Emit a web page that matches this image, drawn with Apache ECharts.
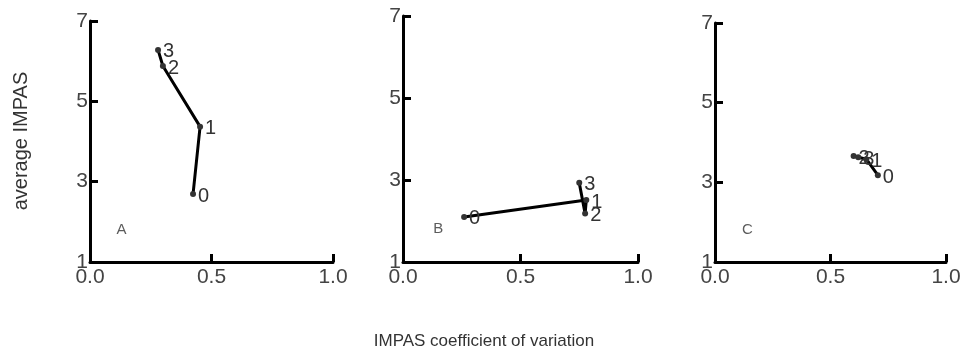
<!DOCTYPE html>
<html>
<head>
<meta charset="utf-8">
<script src="https://cdn.jsdelivr.net/npm/echarts@6/dist/echarts.min.js"></script>
<style>
  html, body { margin: 0; padding: 0; background: #fff; }
  #chart { width: 968px; height: 360px; }
</style>
</head>
<body>
<div id="chart"></div>
<script>
  // time points 0..3 for each panel: [cv, average IMPAS]
  var stepNames = ['0', '1', '2', '3'];
  var panelA = [[0.424, 2.69], [0.453, 4.37], [0.30, 5.88], [0.28, 6.28]];
  var panelB = [[0.26, 2.10], [0.78, 2.51], [0.775, 2.18], [0.75, 2.93]];
  var panelC = [[0.705, 3.18], [0.655, 3.58], [0.60, 3.66], [0.62, 3.63]];
  var panelLetters = ['A', 'B', 'C'];
  var letterPos = [[0.13, 1.8], [0.15, 1.8], [0.14, 1.8]];
  var yTicks = [1, 3, 5, 7];
  var xTicks = [0, 0.5, 1];

  var chart = echarts.init(document.getElementById('chart'));

  var grids = [
    {left: 90, width: 243, top: 21, height: 241},
    {left: 403, width: 235, top: 16, height: 246},
    {left: 715, width: 231, top: 23, height: 239}
  ];
  var panels = [panelA, panelB, panelC];

  var xAxes = [], yAxes = [], series = [];
  grids.forEach(function (g, i) {
    xAxes.push({
      gridIndex: i, type: 'value', min: xTicks[0], max: xTicks[2], interval: 0.5,
      axisLine: {lineStyle: {color: '#000', width: 3}},
      axisTick: {inside: true, length: 8, lineStyle: {color: '#000', width: 3}},
      axisLabel: {color: '#444', fontSize: 21, margin: 5, fontFamily: 'Liberation Sans',
        formatter: function (v) { return v.toFixed(1); }},
      splitLine: {show: false}
    });
    yAxes.push({
      gridIndex: i, type: 'value', min: yTicks[0], max: yTicks[3], interval: 2,
      axisLine: {lineStyle: {color: '#000', width: 3}},
      axisTick: {inside: true, length: 8, lineStyle: {color: '#000', width: 3}},
      axisLabel: {color: '#444', fontSize: 21, margin: 2, fontFamily: 'Liberation Sans'},
      splitLine: {show: false}
    });
    series.push({
      type: 'line', xAxisIndex: i, yAxisIndex: i,
      data: panels[i].map(function (p, k) { return {value: p, name: stepNames[k]}; }),
      symbol: 'circle', symbolSize: 6,
      itemStyle: {color: '#333'},
      lineStyle: {color: '#000', width: 3},
      label: {show: true, position: 'right', distance: 2, color: '#333', fontSize: 20,
        fontFamily: 'Liberation Sans', formatter: '{b}', offset: [0, 2]},
      animation: false
    });
    series.push({
      type: 'scatter', xAxisIndex: i, yAxisIndex: i, symbolSize: 0,
      data: [{value: letterPos[i], name: panelLetters[i]}],
      label: {show: true, position: 'inside', color: '#333', fontSize: 15,
        fontFamily: 'Liberation Sans', formatter: '{b}'},
      animation: false
    });
  });

  chart.setOption({
    animation: false,
    grid: grids,
    xAxis: xAxes,
    yAxis: yAxes,
    series: series,
    graphic: [
      {type: 'text', x: 21, y: 141, rotation: Math.PI / 2,
        style: {text: 'average IMPAS', fill: '#333', fontSize: 20, fontFamily: 'Liberation Sans',
          textAlign: 'center', textVerticalAlign: 'middle'}},
      {type: 'text', x: 484, y: 341,
        style: {text: 'IMPAS coefficient of variation', fill: '#333', fontSize: 17,
          fontFamily: 'Liberation Sans', textAlign: 'center', textVerticalAlign: 'middle'}}
    ]
  });
</script>
</body>
</html>
